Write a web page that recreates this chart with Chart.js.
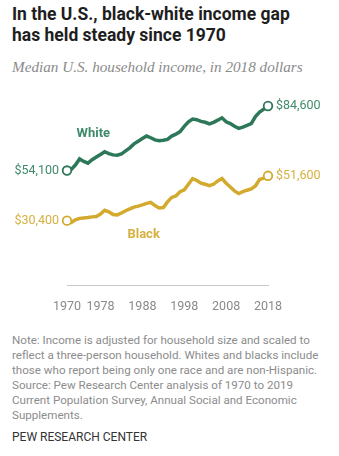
<!DOCTYPE html>
<html>
<head>
<meta charset="utf-8">
<script src="https://cdn.jsdelivr.net/npm/chart.js@4/dist/chart.umd.min.js"></script>
<style>
  html, body { margin: 0; padding: 0; background: #fff; }
  #wrap { position: relative; width: 339px; height: 456px; overflow: hidden; }
  #title { position: absolute; left: 12px; top: 4px; font: 700 17.5px Roboto, sans-serif; line-height: 21px; color: #1e1e1e; }
  #subtitle { position: absolute; left: 12px; top: 58px; font: italic 15.2px "Liberation Serif", serif; color: #8a8a8a; }
  #chartBox { position: absolute; left: 0; top: 80px; width: 339px; height: 250px; }
  #note { position: absolute; left: 12px; top: 333px; white-space: nowrap; font: 11.6px Roboto, sans-serif; line-height: 15px; color: #8c8c8c; }
  #footer { position: absolute; left: 12px; top: 430px; font: 12px Roboto, sans-serif; color: #333; }
</style>
</head>
<body>
<div id="wrap">
  <div id="title">In the U.S., black-white income gap<br>has held steady since 1970</div>
  <div id="subtitle">Median U.S. household income, in 2018 dollars</div>
  <div id="chartBox"><canvas id="incomeChart" width="339" height="250"></canvas></div>
  <div id="note">Note: Income is adjusted for household size and scaled to<br>reflect a three-person household. Whites and blacks include<br>those who report being only one race and are non-Hispanic.<br>Source: Pew Research Center analysis of 1970 to 2019<br>Current Population Survey, Annual Social and Economic<br>Supplements.</div>
  <div id="footer">PEW RESEARCH CENTER</div>
</div>
<script>
// Median household income, thousands of 2018 dollars
const years = [];
for (let y = 1970; y <= 2018; y++) years.push(y);

const whiteIncome = [
  54.1, 54.6, 56.7, 59.6, 58.4, 57.6, 59.2, 60.5, 61.7, 63.0,
  62.1, 61.5, 61.3, 61.9, 63.4, 64.8, 66.7, 67.9, 69.2, 70.4,
  69.6, 68.6, 68.2, 68.4, 68.8, 70.4, 71.3, 72.5, 75.0, 77.1,
  78.4, 78.1, 77.3, 76.9, 76.1, 76.9, 77.9, 79.0, 77.1, 76.3,
  75.0, 74.0, 74.6, 75.4, 76.3, 79.6, 81.7, 83.1, 84.6
];
const blackIncome = [
  30.4, 29.5, 30.8, 31.5, 31.7, 31.9, 32.2, 32.4, 33.5, 35.3,
  34.6, 33.3, 33.1, 34.0, 35.1, 36.0, 36.8, 37.3, 37.9, 38.6,
  39.0, 37.5, 36.4, 36.6, 39.3, 41.4, 42.1, 44.1, 45.0, 47.6,
  50.3, 49.4, 48.1, 47.6, 47.0, 47.6, 49.2, 50.3, 48.1, 46.3,
  44.5, 43.2, 44.1, 44.8, 45.4, 46.8, 49.9, 50.5, 51.6
];
const tickYears = [1970, 1978, 1988, 1998, 2008, 2018];

const green = '#2d7859';
const greenText = '#3f8a6a';
const gold = '#d3aa2e';
const goldText = '#d6b040';

function toPoints(vals) {
  return vals.map((v, i) => ({ x: years[i], y: v }));
}
function money(v) {
  return '$' + Math.round(v * 1000).toLocaleString('en-US');
}
function endRadius(ctx) {
  const n = ctx.dataset.data.length;
  return (ctx.dataIndex === 0 || ctx.dataIndex === n - 1) ? 4.3 : 0;
}

// start/end value labels plus the series names
const labelPlugin = {
  id: 'labels',
  afterDatasetsDraw(chart) {
    const c = chart.ctx;
    const xs = chart.scales.x, ys = chart.scales.y;
    c.save();
    c.textBaseline = 'middle';
    chart.data.datasets.forEach((ds) => {
      const first = ds.data[0], last = ds.data[ds.data.length - 1];
      c.font = '12.5px Roboto, sans-serif';
      c.fillStyle = ds.textColor;
      c.textAlign = 'right';
      c.fillText(money(first.y), xs.getPixelForValue(first.x) - 8, ys.getPixelForValue(first.y));
      c.textAlign = 'left';
      c.fillText(money(last.y), xs.getPixelForValue(last.x) + 8, ys.getPixelForValue(last.y));
      c.font = 'bold 13px Roboto, sans-serif';
      c.textAlign = 'center';
      c.fillText(ds.label, xs.getPixelForValue(ds.nameAt[0]), ys.getPixelForValue(ds.nameAt[1]));
    });
    c.restore();
  }
};

new Chart(document.getElementById('incomeChart'), {
  type: 'line',
  data: {
    datasets: [
      {
        label: 'White',
        data: toPoints(whiteIncome),
        borderColor: green,
        textColor: greenText,
        nameAt: [1976.3, 71.5],
        borderWidth: 3.5,
        pointRadius: endRadius,
        pointBackgroundColor: '#fff',
        pointBorderColor: green,
        pointBorderWidth: 1.8,
        tension: 0,
        clip: false
      },
      {
        label: 'Black',
        data: toPoints(blackIncome),
        borderColor: gold,
        textColor: goldText,
        nameAt: [1988.3, 23.8],
        borderWidth: 3.5,
        pointRadius: endRadius,
        pointBackgroundColor: '#fff',
        pointBorderColor: gold,
        pointBorderWidth: 1.8,
        tension: 0,
        clip: false
      }
    ]
  },
  options: {
    responsive: false,
    animation: false,
    layout: { padding: { left: 67, right: 71, top: 0, bottom: 2 } },
    plugins: { legend: { display: false }, tooltip: { enabled: false } },
    scales: {
      x: {
        type: 'linear',
        min: 1970,
        max: 2018,
        afterBuildTicks: (scale) => { scale.ticks = tickYears.map(v => ({ value: v })); },
        grid: { display: false, drawTicks: false },
        border: { display: true, color: '#c8c8c8', width: 1 },
        ticks: {
          padding: 14,
          color: '#8a8a8a',
          font: { family: 'Roboto', size: 12.5 },
          maxRotation: 0,
          autoSkip: false,
          callback: (v) => String(v)
        }
      },
      y: {
        display: false,
        min: 0,
        max: 94
      }
    }
  },
  plugins: [labelPlugin]
});
</script>
</body>
</html>
